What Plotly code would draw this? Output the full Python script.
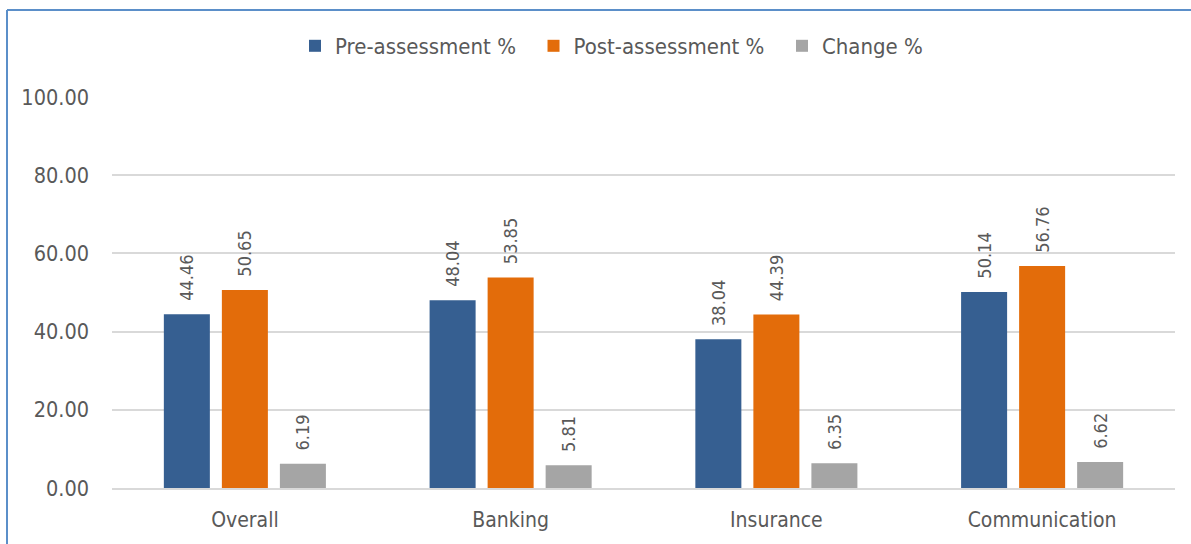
import plotly.graph_objects as go

categories = ["Overall", "Banking", "Insurance", "Communication"]
pre = [44.46, 48.04, 38.04, 50.14]
post = [50.65, 53.85, 44.39, 56.76]
change = [6.19, 5.81, 6.35, 6.62]
series_names = ["Pre-assessment %", "Post-assessment %", "Change %"]
colors = ["#365F91", "#E36C0A", "#A5A5A5"]
tick_vals = [0, 20, 40, 60, 80, 100]
tick_text = ["0.00", "20.00", "40.00", "60.00", "80.00", "100.00"]

FONT = "DejaVu Sans Condensed"
TXT = "#595959"
NB = "\u00a0"

fig = go.Figure()
for name, vals, col in zip(series_names, [pre, post, change], colors):
    fig.add_trace(go.Bar(
        x=categories, y=vals, name=name + NB * 2, marker_color=col,
        marker_line_width=0,
        text=[NB * 2 + f"{v:.2f}" for v in vals], textposition="outside",
        textangle=-90, cliponaxis=False, constraintext="none",
        textfont=dict(family=FONT, size=18, color=TXT),
    ))

W, H = 1191, 544
L, R, T, B = 112, 16, 96, 56
pw, ph = W - L - R, H - T - B

def px(x):
    return (x - L) / pw

def py(y):
    return (H - B - y) / ph

fig.update_layout(
    width=W, height=H,
    margin=dict(l=L, r=R, t=T, b=B),
    paper_bgcolor="white", plot_bgcolor="white",
    barmode="group", bargap=0.345, bargroupgap=0.207,
    font=dict(family=FONT, size=21, color=TXT),
    legend=dict(orientation="h", x=px(618), xanchor="center", y=py(46), yanchor="middle",
                font=dict(family=FONT, size=22, color=TXT), itemwidth=30,
                traceorder="normal"),
    yaxis=dict(range=[0, 100.25], tickvals=tick_vals, ticktext=tick_text,
               showgrid=True, gridcolor="#D9D9D9", gridwidth=1.5,
               zeroline=False, showline=False, ticks="", ticklen=0,
               ticklabelstandoff=22,
               tickfont=dict(family=FONT, size=21.5, color=TXT)),
    xaxis=dict(showline=True, linecolor="#D9D9D9", linewidth=1.5, ticks="",
               ticklabelstandoff=12,
               tickfont=dict(family=FONT, size=21, color=TXT)),
    showlegend=True,
    shapes=[
        dict(type="line", xref="paper", yref="paper", x0=px(7), x1=px(7),
             y0=py(H + 5), y1=py(10), line=dict(color="#5B8FC9", width=2)),
        dict(type="line", xref="paper", yref="paper", x0=px(7), x1=px(W + 5),
             y0=py(10), y1=py(10), line=dict(color="#5B8FC9", width=2)),
    ],
)

fig.write_html("out.html", config={"displayModeBar": False},
               post_script="document.body.style.margin='0';")
